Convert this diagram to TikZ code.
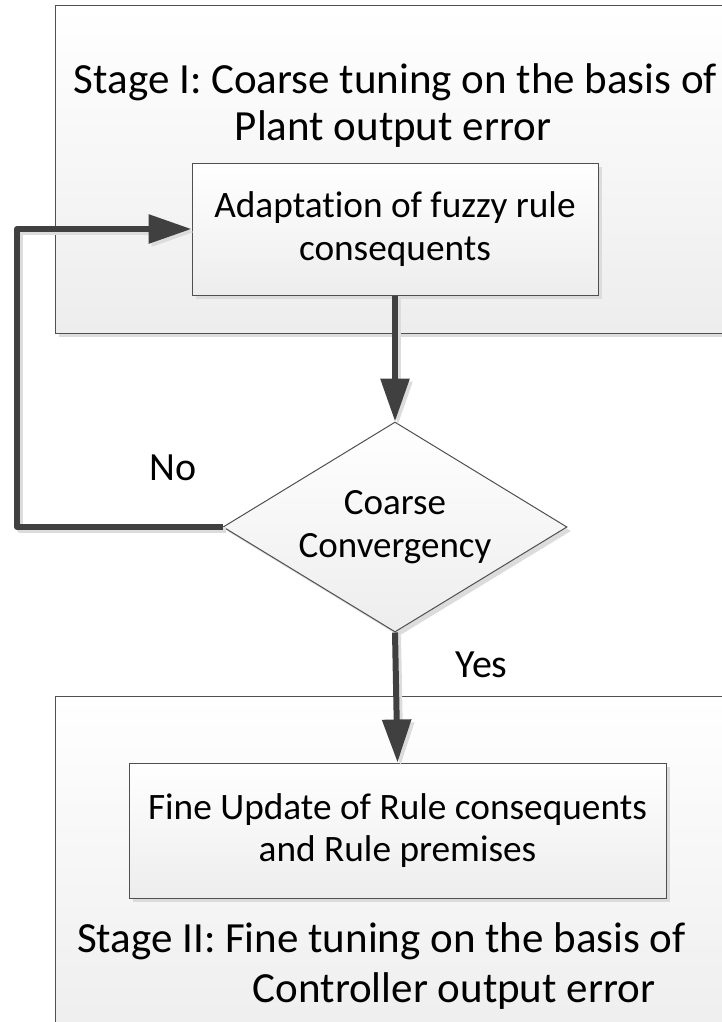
\documentclass[tikz,border=0pt]{standalone}
\usepackage{fontspec}
\setmainfont[Ligatures=NoCommon]{Carlito}
\usetikzlibrary{arrows.meta,shapes.geometric,shadows}

\definecolor{linegray}{HTML}{404040}
\definecolor{edgegray}{HTML}{505050}
\definecolor{fillbottom}{HTML}{EDEDED}
\definecolor{shadowgray}{HTML}{DCDCDC}

\tikzset{
  panel/.style={draw=edgegray, line width=1pt, rectangle, inner sep=0pt,
    top color=white, bottom color=fillbottom,
    drop shadow={shadow xshift=4pt, shadow yshift=-4pt, fill=shadowgray, opacity=1}},
  stepbox/.style={panel, align=center, font=\fontsize{37.3}{42.5}\selectfont},
  decision/.style={panel, diamond, align=center, shape aspect=1.64,
    font=\fontsize{37}{43}\selectfont},
  caption/.style={anchor=base, inner sep=0pt, font=\fontsize{43}{46}\selectfont},
  branch/.style={anchor=base, inner sep=0pt, font=\fontsize{40}{44}\selectfont},
  flow/.style={draw=linegray, line width=6pt, line join=round,
    -{Triangle[length=43pt,width=28pt]}},
  flowshadow/.style={draw=shadowgray, line width=6pt, line join=round,
    -{Triangle[length=43pt,width=28pt]}, transform canvas={shift={(3pt,-3pt)}}}
}

\begin{document}
\begin{tikzpicture}[x=1pt, y=-1pt]
  \useasboundingbox (0,0) rectangle (722,1022);
  \clip (0,0) rectangle (722,1022);

  % Stage I panel
  \node[panel, minimum width=690, minimum height=327] (stageA) at (400,169.5) {};
  \node[caption] (stageAtop) at (395.5,94) {Stage I: Coarse tuning on the basis of};
  \node[caption] (stageAbot) at (393,140) {Plant output error};
  \node[stepbox, minimum width=406, minimum height=132] (adapt) at (395,229) {Adaptation of fuzzy rule\\consequents};

  % Stage II panel
  \node[panel, minimum width=690, minimum height=360] (stageB) at (400,876) {};
  \node[stepbox, minimum width=537, minimum height=135] (fine) at (397.5,830.5) {Fine Update of Rule consequents\\and Rule premises};
  \node[caption] (stageBtop) at (381.5,952) {Stage II: Fine tuning on the basis of};
  \node[caption] (stageBbot) at (454,1002) {Controller output error};

  % Decision
  \node[decision, inner sep=0pt, minimum width=344, minimum height=210] (conv) at (395,527) {Coarse\\Convergency};

  % Branch labels
  \node[branch] (nolabel) at (173,480) {No};
  \node[branch] (yeslabel) at (481.5,677) {Yes};

  % Connectors
  \coordinate (loopx) at (17,0);
  \draw[flowshadow] (adapt.south) -- (conv.north);
  \draw[flowshadow] (conv.south) -- (fine.north);
  \draw[flowshadow] (conv.west) -- (loopx |- conv.west) -- (loopx |- adapt.west) -- (adapt.west);
  \draw[flow] (adapt.south) -- (conv.north);
  \draw[flow] (conv.south) -- (fine.north);
  \draw[flow] (conv.west) -- (loopx |- conv.west) -- (loopx |- adapt.west) -- (adapt.west);
\end{tikzpicture}
\end{document}
